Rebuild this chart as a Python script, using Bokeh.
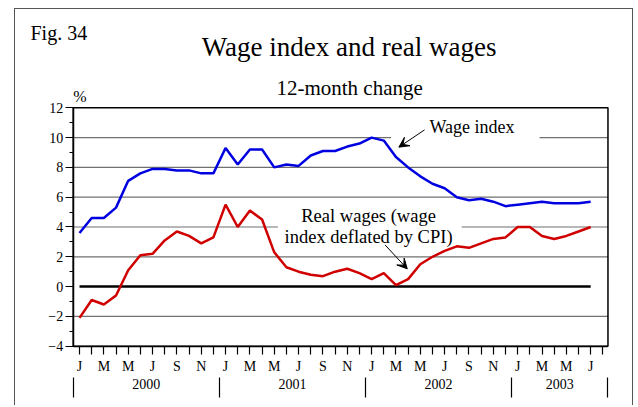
from bokeh.plotting import figure
from bokeh.models import (Range1d, FixedTicker, LinearAxis, Label, Arrow, VeeHead,
                          BoxAnnotation, Spacer)
from bokeh.layouts import row, column
from bokeh.embed import file_html
from bokeh.resources import INLINE

# ---- data (Jan 2000 .. Jul 2003, monthly) ----
months = list(range(43))
wage_index = [3.6, 4.6, 4.6, 5.3, 7.1, 7.6, 7.9, 7.9, 7.8, 7.8, 7.6, 7.6,
              9.3, 8.2, 9.2, 9.2, 8.0, 8.2, 8.1, 8.8, 9.1, 9.1, 9.4, 9.6,
              10.0, 9.8, 8.7, 8.0, 7.4, 6.9, 6.6, 6.0, 5.8, 5.9, 5.7, 5.4,
              5.5, 5.6, 5.7, 5.6, 5.6, 5.6, 5.7]
real_wages = [-2.1, -0.9, -1.2, -0.6, 1.1, 2.1, 2.2, 3.1, 3.7, 3.4, 2.9, 3.3,
              5.5, 4.0, 5.1, 4.5, 2.3, 1.3, 1.0, 0.8, 0.7, 1.0, 1.2, 0.9,
              0.5, 0.9, 0.1, 0.5, 1.5, 2.0, 2.4, 2.7, 2.6, 2.9, 3.2, 3.3,
              4.0, 4.0, 3.4, 3.2, 3.4, 3.7, 4.0]
month_letters = ["J", "", "M", "", "M", "", "J", "", "S", "", "N", ""]
years = ["2000", "2001", "2002", "2003"]
y_ticks = [-4, -2, 0, 2, 4, 6, 8, 10, 12]
grid_ticks = [-2, 2, 4, 6, 8, 10]

FONT = "Liberation Serif"
# plot box (axis extent) and whole-canvas ranges
x_start, x_end = -0.52, 43.42
y_low, y_high = -4, 12
year_axis_y = -6.1

p = figure(width=619, height=397, x_range=Range1d(-5.26, 45.6), y_range=Range1d(-8.05, 18.6),
           output_backend="svg", toolbar_location=None,
           min_border_left=0, min_border_right=0, min_border_top=0, min_border_bottom=0)
p.styles = {"border-top": "1px solid #555", "border-left": "1px solid #555",
            "border-right": "1px solid #555"}
p.outline_line_color = None
p.xgrid.visible = False
p.ygrid.visible = False

# grid lines inside the plot box
p.segment(x0=x_start, x1=x_end, y0=grid_ticks, y1=grid_ticks, color="#707070", line_width=1.2)

# y axis
ya = p.yaxis[0]
ya.fixed_location = x_start
ya.bounds = (y_low, y_high)
ya.ticker = FixedTicker(ticks=y_ticks, minor_ticks=[t + 1 for t in y_ticks[:-1]])
ya.major_tick_out = 8
ya.major_tick_in = 0
ya.minor_tick_out = 4
ya.minor_tick_in = 0
ya.axis_line_width = 1.5
ya.major_tick_line_width = 1.2
ya.minor_tick_line_width = 1.2
ya.major_label_text_font = FONT
ya.major_label_text_font_size = "14px"
ya.major_label_text_color = "black"
ya.major_label_standoff = 2

# month axis
n_ticks = len(months) + 1
xa = p.xaxis[0]
xa.fixed_location = y_low
xa.bounds = (x_start, x_end)
xa.ticker = FixedTicker(ticks=list(range(n_ticks)))
xa.major_label_overrides = {i: month_letters[i % 12] for i in range(n_ticks)}
xa.major_tick_out = 8
xa.major_tick_in = 0
xa.minor_tick_out = 0
xa.axis_line_width = 1.5
xa.major_tick_line_width = 1.2
xa.major_label_text_font = FONT
xa.major_label_text_font_size = "14px"
xa.major_label_text_color = "black"
xa.major_label_standoff = 5

# year axis
separators = [x_start, 11.5, 23.5, 35.5, x_end]
centers = [(a + b) / 2 for a, b in zip(separators[:-1], separators[1:])]
yr = LinearAxis(ticker=FixedTicker(ticks=centers, minor_ticks=separators),
                major_label_overrides={c: y for c, y in zip(centers, years)},
                fixed_location=year_axis_y)
yr.axis_line_color = None
yr.major_tick_line_color = None
yr.major_tick_out = 0
yr.major_tick_in = 0
yr.minor_tick_in = 0
yr.minor_tick_out = 20
yr.minor_tick_line_color = "black"
yr.minor_tick_line_width = 1.2
yr.major_label_text_font = FONT
yr.major_label_text_font_size = "14px"
yr.major_label_text_color = "black"
yr.major_label_standoff = -18
p.add_layout(yr, "below")

# zero line and series
p.line([months[0], months[-1]], [0, 0], color="black", line_width=2.5)
p.line(months, wage_index, color="#0000E0", line_width=2.5)
p.line(months, real_wages, color="#D00000", line_width=2.5)

# white boxes behind annotation text
p.add_layout(BoxAnnotation(left=16.3, right=31.4, bottom=3.0, top=5.5,
                           fill_color="white", fill_alpha=1, line_color=None))
p.add_layout(BoxAnnotation(left=25.6, right=37.8, bottom=9.8, top=11.4,
                           fill_color="white", fill_alpha=1, line_color=None))

# plot box outline
p.add_layout(BoxAnnotation(left=x_start, right=x_end, bottom=y_low, top=y_high,
                           fill_alpha=0, line_color="black", line_width=1.5, line_alpha=1))

# arrows
p.add_layout(Arrow(x_start=28.35, y_start=10.52, x_end=26.24, y_end=9.36,
                   line_color="black", line_width=1,
                   end=VeeHead(size=10, fill_color="black", line_color="black")))
p.add_layout(Arrow(x_start=25.1, y_start=2.8, x_end=26.93, y_end=1.19,
                   line_color="black", line_width=1,
                   end=VeeHead(size=10, fill_color="black", line_color="black")))

def lab(x, y, text, size, align="left"):
    p.add_layout(Label(x=x, y=y, text=text, text_font=FONT, text_font_size=size,
                       text_align=align, text_baseline="middle", text_color="black"))

lab(28.76, 10.68, "Wage index", "18px")
lab(23.75, 4.77, "Real wages (wage", "18.5px", "center")
lab(23.75, 3.30, "index deflated by CPI)", "18.5px", "center")
lab(-4.03, 17.05, "Fig. 34", "20px")
lab(22.15, 16.05, "Wage index and real wages", "27px", "center")
lab(22.19, 13.36, "12-month change", "21px", "center")
lab(0.04, 12.76, "%", "16px", "center")

layout = column(Spacer(height=8), row(Spacer(width=14), p))
open("out.html", "w").write(file_html(layout, INLINE))
